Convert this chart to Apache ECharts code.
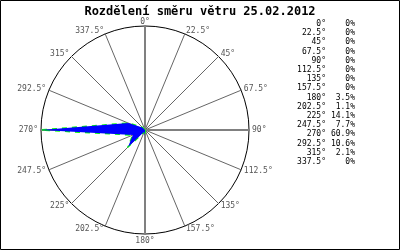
<!DOCTYPE html>
<html>
<head>
<meta charset="utf-8">
<script src="https://cdn.jsdelivr.net/npm/echarts@6/dist/echarts.min.js"></script>
<style>html,body{margin:0;padding:0;background:#fff}#c{width:400px;height:250px}</style>
</head>
<body>
<div id="c"></div>
<script>
const titleText = 'Rozdělení směru větru 25.02.2012';
const directions = ['0°','22.5°','45°','67.5°','90°','112.5°','135°','157.5°','180°','202.5°','225°','247.5°','270°','292.5°','315°','337.5°'];
const percents = [0,0,0,0,0,0,0,0,3.5,1.1,14.1,7.7,60.9,10.6,2.1,0];
const cardinals = ['0°','90°','180°','270°'];

const maxVal = Math.max(...percents);
// radar indicators run counter-clockwise; reverse so compass goes clockwise
const order = [0].concat(directions.map((d,i)=>i).slice(1).reverse());
const fmtPct = v => (v === 0 ? '0%' : v.toFixed(1) + '%');
const mono = 'DejaVu Sans Mono';

const graphics = [{
  type: 'rect', shape: {x: 0.5, y: 0.5, width: 399, height: 249},
  style: {fill: 'none', stroke: '#000', lineWidth: 1}, silent: true
}, {
  // north label, placed closer to the circle than the radar gap allows
  type: 'text', x: 145, y: 21.5, z: 10,
  style: {text: directions[0], fill: '#555', font: '8px ' + mono, textAlign: 'center', textVerticalAlign: 'middle'}
}];
directions.forEach((d, i) => {
  const y = 24 + i * 9.2;
  graphics.push({type: 'text', x: 326, y: y, style: {text: d, fill: '#000', font: '8px ' + mono, textAlign: 'right', textVerticalAlign: 'middle'}});
  graphics.push({type: 'text', x: 355, y: y, style: {text: fmtPct(percents[i]), fill: '#000', font: '8px ' + mono, textAlign: 'right', textVerticalAlign: 'middle'}});
});

const chart = echarts.init(document.getElementById('c'), null, {renderer: 'canvas'});
chart.setOption({
  animation: false,
  backgroundColor: '#fff',
  title: {text: titleText, left: 'center', top: 1, textStyle: {fontFamily: mono, fontWeight: 'bold', fontSize: 12, color: '#000'}},
  radar: [{
    center: [145, 130], radius: 104, startAngle: 90, shape: 'circle', splitNumber: 1,
    indicator: order.map(i => ({name: i === 0 ? '' : directions[i], min: 0, max: maxVal})),
    axisName: {color: '#555', fontFamily: mono, fontSize: 8},
    nameGap: 3,
    axisLine: {lineStyle: {color: '#666', width: 1}},
    splitLine: {lineStyle: {color: '#000', width: 1}},
    splitArea: {show: false},
    axisTick: {show: false}, axisLabel: {show: false}
  }, {
    center: [145, 130], radius: 104, startAngle: 90, shape: 'circle', splitNumber: 1,
    indicator: cardinals.map(n => ({name: n, min: 0, max: maxVal})),
    axisName: {show: false},
    axisLine: {lineStyle: {color: '#808080', width: 2}},
    splitLine: {show: false}, splitArea: {show: false},
    axisTick: {show: false}, axisLabel: {show: false}
  }],
  series: [{
    type: 'radar', radarIndex: 0, symbol: 'none', z: 5,
    lineStyle: {color: '#00ff00', width: 1.6, type: [5, 5]},
    areaStyle: {color: '#0000ff', opacity: 1},
    data: [{value: order.map(i => percents[i])}]
  }],
  graphic: graphics
});
</script>
</body>
</html>
